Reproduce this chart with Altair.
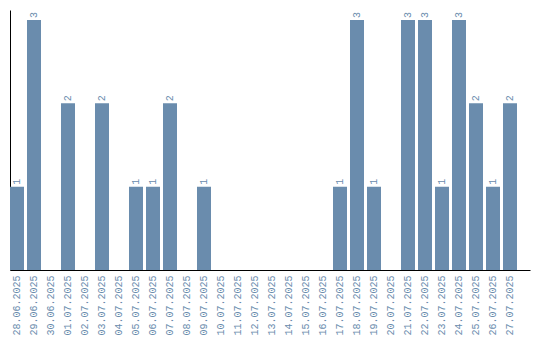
import altair as alt
import pandas as pd

dates = ["28.06.2025", "29.06.2025", "30.06.2025", "01.07.2025", "02.07.2025", "03.07.2025",
         "04.07.2025", "05.07.2025", "06.07.2025", "07.07.2025", "08.07.2025", "09.07.2025",
         "10.07.2025", "11.07.2025", "12.07.2025", "13.07.2025", "14.07.2025", "15.07.2025",
         "16.07.2025", "17.07.2025", "18.07.2025", "19.07.2025", "20.07.2025", "21.07.2025",
         "22.07.2025", "23.07.2025", "24.07.2025", "25.07.2025", "26.07.2025", "27.07.2025"]
counts = [1, 3, 0, 2, 0, 2, 0, 1, 1, 2, 0, 1, 0, 0, 0, 0, 0, 0, 0, 1, 3, 1, 0, 3, 3, 1, 3, 2, 1, 2]

df = pd.DataFrame({"date": dates, "count": counts})
COLOR = "#6a8cad"
FONT = "Liberation Mono"

x = alt.X("date:N", sort=dates,
          scale=alt.Scale(paddingInner=0.1765, paddingOuter=0.3824, align=0),
          axis=alt.Axis(title=None, labelAngle=270, ticks=False, labelPadding=5,
                        labelColor=COLOR, labelFont=FONT, labelFontSize=10,
                        domainColor="#000000", domainWidth=1, grid=False))
y = alt.Y("count:Q", scale=alt.Scale(domain=[0, 3.12], nice=False),
          axis=alt.Axis(title=None, labels=False, ticks=False, grid=False,
                        domainColor="#000000", domainWidth=1))

bars = alt.Chart(df).mark_bar(color=COLOR).encode(x=x, y=y)
text = alt.Chart(df).transform_filter("datum.count > 0").mark_text(
    angle=270, align="left", baseline="middle", dx=2, color=COLOR, font=FONT, fontSize=10
).encode(x=alt.X("date:N", sort=dates), y="count:Q", text="count:Q")

chart = (bars + text).properties(
    width=520, height=260,
    autosize=alt.AutoSizeParams(type="none"),
    padding={"left": 10, "top": 10, "right": 10, "bottom": 70},
).configure_view(stroke=None)

chart.save("out.html", embed_options={"renderer": "svg", "actions": False})
